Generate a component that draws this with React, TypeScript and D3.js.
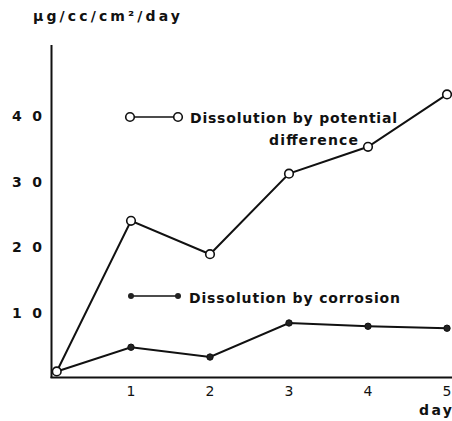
import React from "react";
import * as d3 from "d3";

const days = [0.06, 1, 2, 3, 4, 5];
const potential = [1.0, 24.0, 18.9, 31.2, 35.3, 43.3];
const corrosion = [1.0, 4.7, 3.2, 8.4, 7.9, 7.6];
const yTicks = [10, 20, 30, 40];
const xTicks = [1, 2, 3, 4, 5];
const yTitle = "μg/cc/cm²/day";
const xTitle = "day";
const legendPotential = ["Dissolution by potential", "difference"];
const legendCorrosion = "Dissolution by corrosion";

const W = 452;
const H = 421;
const font = "'DejaVu Sans', sans-serif";

export default function App() {
  const x = d3.scaleLinear().domain([0, 5]).range([52, 447]);
  const y = d3.scaleLinear().domain([0, 40]).range([378, 116]);
  const line = d3
    .line<number>()
    .x((_, i) => x(days[i]))
    .y((d) => y(d));

  return (
    <svg
      width={W}
      height={H}
      style={{ position: "absolute", left: 0, top: 0, background: "#fff" }}
      fontFamily={font}
    >
      <rect width={W} height={H} fill="#fff" />
      {/* axes */}
      <line x1={51.5} y1={45} x2={51.5} y2={378} stroke="#111" strokeWidth={2} />
      <line x1={50.5} y1={377.5} x2={452} y2={377.5} stroke="#111" strokeWidth={2} />

      {/* y tick labels */}
      {yTicks.map((t) => (
        <text
          key={t}
          x={12}
          y={y(t)}
          dominantBaseline="central"
          fontSize={14}
          fontWeight="bold"
          textLength={30}
          lengthAdjust="spacing"
          fill="#111"
        >
          {String(t)}
        </text>
      ))}
      {/* x tick labels */}
      {xTicks.map((t) => (
        <text
          key={t}
          x={x(t)}
          y={391}
          textAnchor="middle"
          dominantBaseline="central"
          fontSize={14}
          fill="#111"
        >
          {String(t)}
        </text>
      ))}
      <text
        x={419}
        y={410}
        dominantBaseline="central"
        fontSize={14}
        fontWeight="bold"
        textLength={33}
        lengthAdjust="spacing"
        fill="#111"
      >
        {xTitle}
      </text>
      <text
        x={33}
        y={16}
        dominantBaseline="central"
        fontSize={14}
        fontWeight="bold"
        textLength={147}
        lengthAdjust="spacing"
        fill="#111"
      >
        {yTitle}
      </text>

      {/* series lines */}
      <path d={line(potential) || ""} fill="none" stroke="#111" strokeWidth={2} />
      <path d={line(corrosion) || ""} fill="none" stroke="#111" strokeWidth={2} />
      {corrosion.map((v, i) => (
        <circle key={"c" + i} cx={x(days[i])} cy={y(v)} r={3.2} fill="#222" stroke="#111" strokeWidth={1} />
      ))}
      {potential.map((v, i) => (
        <circle key={"p" + i} cx={x(days[i])} cy={y(v)} r={4.3} fill="#fff" stroke="#111" strokeWidth={1.6} />
      ))}

      {/* legend */}
      <line x1={130} y1={117} x2={178} y2={117} stroke="#111" strokeWidth={1.6} />
      <circle cx={130} cy={117} r={4.3} fill="#fff" stroke="#111" strokeWidth={1.6} />
      <circle cx={178} cy={117} r={4.3} fill="#fff" stroke="#111" strokeWidth={1.6} />
      <text x={190} y={118} dominantBaseline="central" fontSize={14} fontWeight="bold" textLength={207} lengthAdjust="spacing" fill="#111">
        {legendPotential[0]}
      </text>
      <text x={269} y={140} dominantBaseline="central" fontSize={14} fontWeight="bold" textLength={89} lengthAdjust="spacing" fill="#111">
        {legendPotential[1]}
      </text>

      <line x1={131} y1={296} x2={178} y2={296} stroke="#111" strokeWidth={1.6} />
      <circle cx={131} cy={296} r={3} fill="#222" />
      <circle cx={178} cy={296} r={3} fill="#222" />
      <text x={189} y={298} dominantBaseline="central" fontSize={14} fontWeight="bold" textLength={211} lengthAdjust="spacing" fill="#111">
        {legendCorrosion}
      </text>
    </svg>
  );
}
